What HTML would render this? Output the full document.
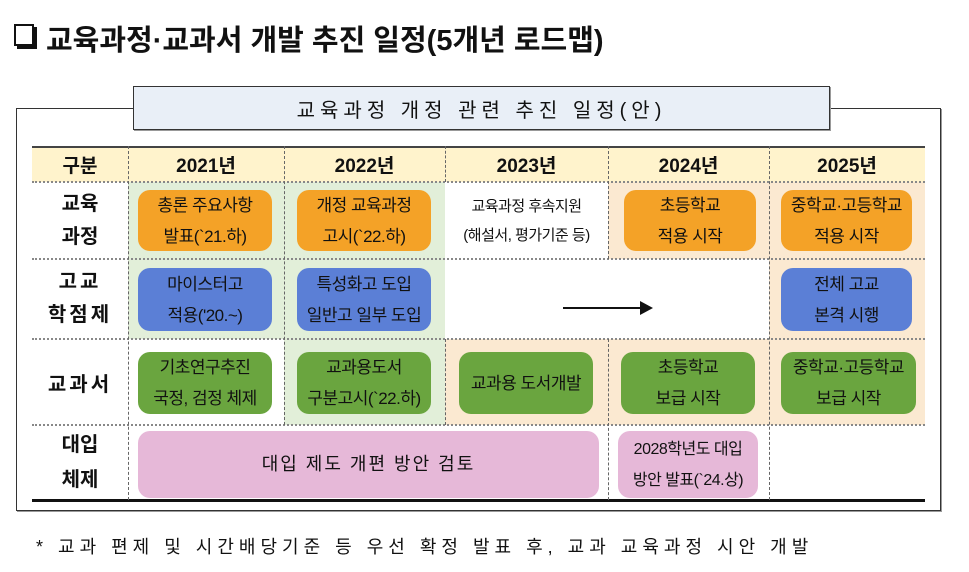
<!DOCTYPE html>
<html><head><meta charset="utf-8"><style>
*{margin:0;padding:0;box-sizing:border-box}
body{width:969px;height:572px;background:#fff;position:relative;overflow:hidden;font-family:"Liberation Sans","Noto Sans CJK KR","NanumGothic",sans-serif;color:#111}
.a{position:absolute}
.t{display:flex;align-items:center;justify-content:center;text-align:center}
.box{position:absolute;border-radius:12px;display:flex;align-items:center;justify-content:center;text-align:center;font-size:17px;line-height:31px;letter-spacing:-0.5px}
.o{background:#f4a227}.b{background:#5b7fd6}.g{background:#6aa53f}.p{background:#e6b8d8}
.hd{font-weight:bold;font-size:19px}
.vl{position:absolute;border-left:1px dashed #666;width:0}
.hl{position:absolute;border-top:2px dotted #888;height:0}
</style></head><body>
<div class="a" style="left:14px;top:24px;width:20px;height:22px;border:2px solid #111;box-shadow:3px 3px 0 #111;background:#fff"></div>
<div class="a" style="left:46px;top:17px;font-size:29px;font-weight:bold;letter-spacing:0px">교육과정·교과서 개발 추진 일정(5개년 로드맵)</div>

<div class="a" style="left:16px;top:108px;width:925px;height:403px;border:1.5px solid #333;box-shadow:1px 1px 0 #999"></div>
<div class="a t" style="left:133px;top:86px;width:697px;height:44px;background:#e9eff7;border:1.5px solid #333;font-size:20px;letter-spacing:5px;box-shadow:1px 1px 0 #999">교육과정 개정 관련 추진 일정(안)</div>

<div class="a" style="left:32px;top:146px;width:893px;height:36px;background:#fff3cc;border-top:2px solid #444"></div>
<div class="a" style="left:128px;top:182px;width:156px;height:157px;background:#e2efd9"></div>
<div class="a" style="left:284px;top:182px;width:161px;height:243px;background:#e2efd9"></div>
<div class="a" style="left:608px;top:182px;width:161px;height:77px;background:#fbe9d1"></div>
<div class="a" style="left:769px;top:182px;width:156px;height:243px;background:#fbe9d1"></div>
<div class="a" style="left:445px;top:339px;width:324px;height:86px;background:#fbe9d1"></div>

<div class="a t hd" style="left:32px;top:146px;width:96px;height:36px">구분</div>
<div class="a t hd" style="left:128px;top:146px;width:156px;height:36px">2021년</div>
<div class="a t hd" style="left:284px;top:146px;width:161px;height:36px">2022년</div>
<div class="a t hd" style="left:445px;top:146px;width:163px;height:36px">2023년</div>
<div class="a t hd" style="left:608px;top:146px;width:161px;height:36px">2024년</div>
<div class="a t hd" style="left:769px;top:146px;width:156px;height:36px">2025년</div>

<div class="hl" style="left:32px;top:181px;width:893px"></div>
<div class="hl" style="left:32px;top:258px;width:893px"></div>
<div class="hl" style="left:32px;top:338px;width:893px"></div>
<div class="hl" style="left:32px;top:424px;width:893px"></div>
<div class="a" style="left:32px;top:499px;width:893px;height:3px;background:#111"></div>

<div class="vl" style="left:128px;top:146px;height:354px"></div>
<div class="vl" style="left:284px;top:146px;height:279px"></div>
<div class="vl" style="left:445px;top:146px;height:36px"></div>
<div class="vl" style="left:445px;top:339px;height:86px"></div>
<div class="vl" style="left:608px;top:146px;height:113px"></div>
<div class="vl" style="left:608px;top:339px;height:161px"></div>
<div class="vl" style="left:769px;top:146px;height:354px"></div>

<div class="a t hd" style="left:32px;top:182px;width:96px;height:77px;line-height:33px;font-size:20px">교육<br>과정</div>
<div class="a t hd" style="left:32px;top:259px;width:96px;height:80px;line-height:33px;letter-spacing:3px;font-size:20px">고교<br>학점제</div>
<div class="a t hd" style="left:32px;top:339px;width:96px;height:86px;letter-spacing:3px;font-size:20px">교과서</div>
<div class="a t hd" style="left:32px;top:425px;width:96px;height:75px;line-height:35px;font-size:20px">대입<br>체제</div>

<div class="box o" style="left:138px;top:190px;width:134px;height:61px">총론 주요사항<br>발표(`21.하)</div>
<div class="box o" style="left:297px;top:190px;width:134px;height:61px">개정 교육과정<br>고시(`22.하)</div>
<div class="a t" style="left:445px;top:190px;width:163px;height:61px;font-size:15px;line-height:29px;letter-spacing:-0.5px">교육과정 후속지원<br>(해설서, 평가기준 등)</div>
<div class="box o" style="left:624px;top:190px;width:132px;height:61px">초등학교<br>적용 시작</div>
<div class="box o" style="left:781px;top:190px;width:131px;height:61px">중학교·고등학교<br>적용 시작</div>

<div class="box b" style="left:138px;top:268px;width:134px;height:63px">마이스터고<br>적용('20.~)</div>
<div class="box b" style="left:297px;top:268px;width:134px;height:63px">특성화고 도입<br>일반고 일부 도입</div>
<div class="a" style="left:563px;top:307px;width:80px;height:2px;background:#111"></div>
<div class="a" style="left:640px;top:301px;width:0;height:0;border-left:13px solid #111;border-top:7px solid transparent;border-bottom:7px solid transparent"></div>
<div class="box b" style="left:781px;top:268px;width:131px;height:63px">전체 고교<br>본격 시행</div>

<div class="box g" style="left:138px;top:352px;width:134px;height:62px">기초연구추진<br>국정, 검정 체제</div>
<div class="box g" style="left:297px;top:352px;width:134px;height:62px">교과용도서<br>구분고시(`22.하)</div>
<div class="box g" style="left:459px;top:352px;width:134px;height:62px">교과용 도서개발</div>
<div class="box g" style="left:621px;top:352px;width:134px;height:62px">초등학교<br>보급 시작</div>
<div class="box g" style="left:781px;top:352px;width:135px;height:62px">중학교·고등학교<br>보급 시작</div>

<div class="box p" style="left:138px;top:431px;width:461px;height:67px;font-size:18px;letter-spacing:2px">대입 제도 개편 방안 검토</div>
<div class="box p" style="left:618px;top:431px;width:140px;height:67px;font-size:16px">2028학년도 대입<br>방안 발표(`24.상)</div>

<div class="a" style="left:36px;top:533px;font-size:18px;letter-spacing:5px">* 교과 편제 및 시간배당기준 등 우선 확정 발표 후, 교과 교육과정 시안 개발</div>
</body></html>
